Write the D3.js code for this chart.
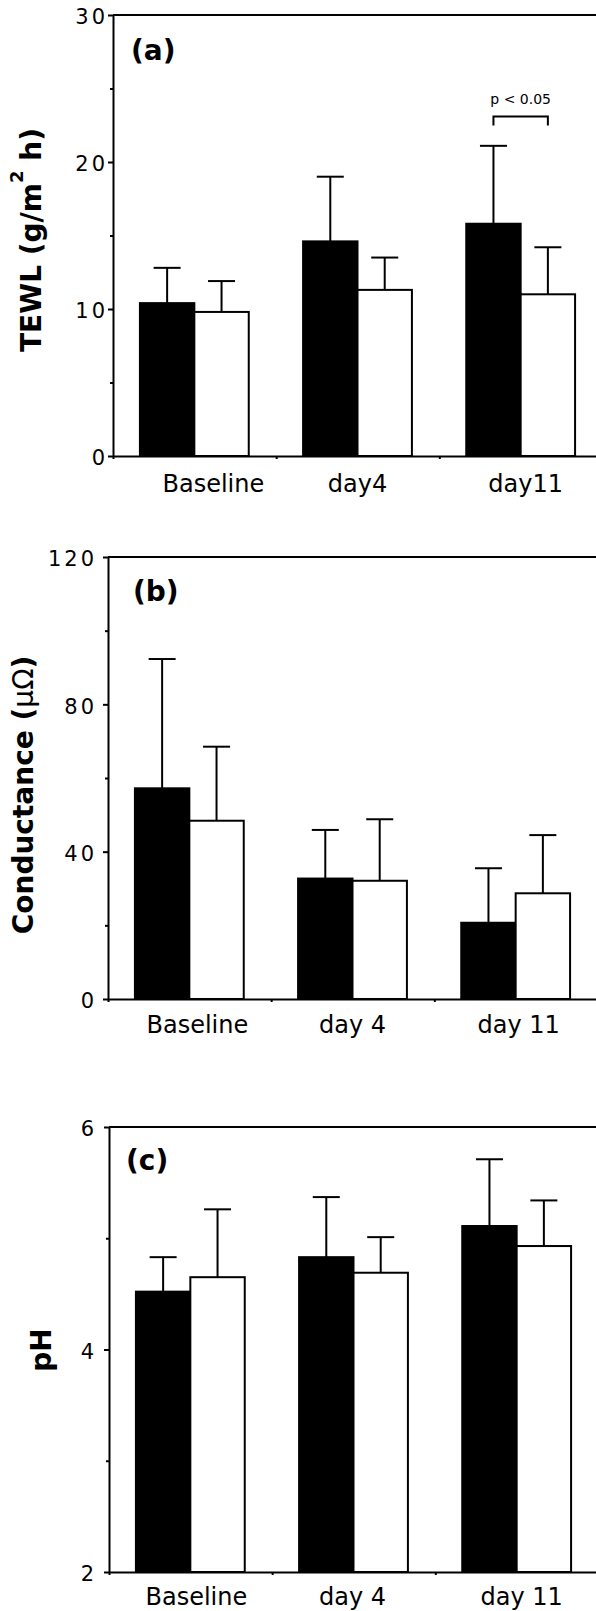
<!DOCTYPE html>
<html>
<head>
<meta charset="utf-8">
<script src="https://cdn.jsdelivr.net/npm/d3@7"></script>
<style>
  html, body { margin: 0; padding: 0; background: #fff; }
  svg { display: block; }
</style>
</head>
<body>
<div id="chart"></div>
<script>
// categories
const tewlCategories = ["Baseline", "day4", "day11"];
const dayCategories = ["Baseline", "day 4", "day 11"];

// (a) TEWL, black bars = first group, white bars = second group; mean and SD
const tewlBlack = [10.4, 14.6, 15.8];
const tewlBlackSd = [2.4, 4.4, 5.3];
const tewlWhite = [9.8, 11.3, 11.0];
const tewlWhiteSd = [2.1, 2.2, 3.2];

// (b) conductance
const condBlack = [57.2, 32.7, 20.7];
const condBlackSd = [35.1, 13.2, 14.8];
const condWhite = [48.4, 32.1, 28.7];
const condWhiteSd = [20.1, 16.7, 15.8];

// (c) pH
const phBlack = [4.52, 4.83, 5.11];
const phBlackSd = [0.31, 0.54, 0.60];
const phWhite = [4.65, 4.69, 4.93];
const phWhiteSd = [0.61, 0.32, 0.41];

// tick labels
const tewlTicks = [0, 10, 20, 30];
const tewlMinor = [5, 15, 25];
const condTicks = [0, 40, 80, 120];
const condMinor = [20, 60, 100];
const phTicks = [2, 4, 6];
const phMinor = [3, 5];

const sigText = "p < 0.05";

const W = 596, H = 1611;
const FONT = "'DejaVu Sans', 'Liberation Sans', sans-serif";

const svg = d3.select("#chart")
  .append("svg")
  .attr("width", W)
  .attr("height", H);

svg.append("rect").attr("width", W).attr("height", H).attr("fill", "#fff");

const panels = [
  {
    tag: "(a)", cats: tewlCategories,
    means: [tewlBlack, tewlWhite], sds: [tewlBlackSd, tewlWhiteSd],
    domain: [0, 30], ticks: tewlTicks, minor: tewlMinor,
    left: 113, top: 15, bottom: 456, tickPad: 0,
    title: [{t: "TEWL (g/m"}, {t: "2", sup: true}, {t: " h)"}],
    titleX: 41, titleY: 240,
    labelY: 492, labelDx: [19, 0, 5],
    tagX: 131, tagY: 60,
    sig: {cat: "day11", at: 23.1}
  },
  {
    tag: "(b)", cats: dayCategories,
    means: [condBlack, condWhite], sds: [condBlackSd, condWhiteSd],
    domain: [0, 120], ticks: condTicks, minor: condMinor,
    left: 108, top: 557, bottom: 999, tickPad: 6,
    title: [{t: "Conductance ("}, {t: "\u03BC\u03A9", light: true}, {t: ")"}],
    titleX: 33, titleY: 795,
    labelY: 1033, labelDx: [8, 0, 3],
    tagX: 133, tagY: 601
  },
  {
    tag: "(c)", cats: dayCategories,
    means: [phBlack, phWhite], sds: [phBlackSd, phWhiteSd],
    domain: [2, 6], ticks: phTicks, minor: phMinor,
    left: 109, top: 1127, bottom: 1572, tickPad: 7,
    title: [{t: "pH"}],
    titleX: 51, titleY: 1350,
    labelY: 1605, labelDx: [6, -1, 5],
    tagX: 126, tagY: 1170
  }
];

panels.forEach(p => {
  const g = svg.append("g");

  const y = d3.scaleLinear().domain(p.domain).range([p.bottom, p.top]);
  const x = d3.scaleBand()
    .domain(p.cats)
    .range([p.left, p.left + 489])
    .paddingInner(0.333)
    .paddingOuter(0.165);
  const xs = d3.scaleBand().domain([0, 1]).range([0, x.bandwidth()]);
  const slot = d3.scaleLinear().domain([0, 3]).range([p.left, p.left + 3 * x.step()]);
  const right = slot.range()[1];

  // bars
  const rows = p.cats.flatMap((c, i) => [0, 1].map(s => ({
    c, s, m: p.means[s][i], sd: p.sds[s][i]
  })));

  g.append("g")
    .selectAll("rect")
    .data(rows)
    .join("rect")
      .attr("x", d => x(d.c) + xs(d.s))
      .attr("y", d => y(d.m))
      .attr("width", xs.bandwidth())
      .attr("height", d => y(p.domain[0]) - y(d.m))
      .attr("fill", d => d.s === 0 ? "#000" : "#fff")
      .attr("stroke", "#000")
      .attr("stroke-width", 2);

  // error bars, upper only
  const cx = d => x(d.c) + xs(d.s) + xs.bandwidth() / 2;
  const err = g.append("g").attr("stroke", "#000").attr("stroke-width", 2);
  err.selectAll("line.stem")
    .data(rows)
    .join("line")
      .attr("class", "stem")
      .attr("x1", cx).attr("x2", cx)
      .attr("y1", d => y(d.m)).attr("y2", d => y(d.m + d.sd));
  err.selectAll("line.cap")
    .data(rows)
    .join("line")
      .attr("class", "cap")
      .attr("x1", d => cx(d) - 13.5).attr("x2", d => cx(d) + 13.5)
      .attr("y1", d => y(d.m + d.sd)).attr("y2", d => y(d.m + d.sd));

  // frame top line
  g.append("line")
    .attr("x1", p.left).attr("x2", right)
    .attr("y1", y(p.domain[1])).attr("y2", y(p.domain[1]))
    .attr("stroke", "#000").attr("stroke-width", 2);

  // x axis, ticks on group boundaries
  g.append("g")
    .attr("transform", `translate(0,${p.bottom})`)
    .call(d3.axisBottom(slot).tickValues([0, 1, 2, 3]).tickSize(3).tickSizeOuter(0).tickFormat(""))
    .call(a => a.selectAll("path, line").attr("stroke", "#000").attr("stroke-width", 2));

  // y axis
  g.append("g")
    .attr("transform", `translate(${p.left},0)`)
    .call(d3.axisLeft(y).tickValues(p.minor).tickSize(3).tickFormat(""))
    .call(a => a.select(".domain").remove())
    .call(a => a.selectAll("line").attr("stroke", "#000").attr("stroke-width", 2));

  g.append("g")
    .attr("transform", `translate(${p.left},0)`)
    .call(d3.axisLeft(y).tickValues(p.ticks).tickSize(5).tickSizeOuter(0)
      .tickPadding(p.tickPad).tickFormat(d3.format("d")))
    .call(a => a.selectAll("path, line").attr("stroke", "#000").attr("stroke-width", 2))
    .call(a => a.selectAll("text")
      .attr("dy", "0.42em")
      .attr("fill", "#000")
      .style("font-family", FONT)
      .style("font-size", "21px")
      .style("letter-spacing", "3px"));

  // category labels
  g.append("g")
    .selectAll("text")
    .data(p.cats)
    .join("text")
      .attr("x", (d, i) => x(d) + x.bandwidth() / 2 + p.labelDx[i])
      .attr("y", p.labelY)
      .attr("text-anchor", "middle")
      .style("font-family", FONT)
      .style("font-size", "24px")
      .text(d => d);

  // panel tag
  g.append("text")
    .attr("x", p.tagX).attr("y", p.tagY)
    .style("font-family", FONT)
    .style("font-size", "28px")
    .style("font-weight", "bold")
    .text(p.tag);

  // y title
  const title = g.append("text")
    .attr("transform", `translate(${p.titleX},${p.titleY}) rotate(-90)`)
    .attr("text-anchor", "middle")
    .style("font-family", FONT)
    .style("font-size", "28px")
    .style("font-weight", "bold");
  let shifted = false;
  p.title.forEach(part => {
    const ts = title.append("tspan").text(part.t);
    if (part.sup) {
      ts.attr("dy", -18).style("font-size", "18px");
      shifted = true;
    } else if (shifted) {
      ts.attr("dy", 18);
      shifted = false;
    }
    if (part.light) ts.style("font-weight", "normal");
  });

  // significance bracket
  if (p.sig) {
    const x0 = x(p.sig.cat) + xs(0) + xs.bandwidth() / 2;
    const x1 = x(p.sig.cat) + xs(1) + xs.bandwidth() / 2;
    const yb = y(p.sig.at);
    g.append("path")
      .attr("d", d3.line()([[x0, yb + 9], [x0, yb], [x1, yb], [x1, yb + 9]]))
      .attr("fill", "none")
      .attr("stroke", "#000")
      .attr("stroke-width", 2);
    g.append("text")
      .attr("x", (x0 + x1) / 2)
      .attr("y", yb - 12)
      .attr("text-anchor", "middle")
      .style("font-family", FONT)
      .style("font-size", "14px")
      .text(sigText);
  }
});
</script>
</body>
</html>
